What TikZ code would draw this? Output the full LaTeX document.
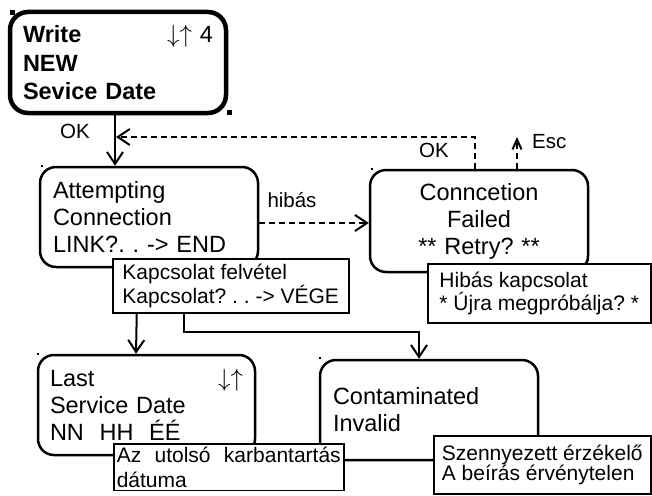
\documentclass[tikz,border=0pt]{standalone}
\usepackage{fontspec}
\setmainfont{Liberation Sans}
\usetikzlibrary{arrows.meta}
\frenchspacing

\newcommand{\updown}{\ensuremath{\downarrow\uparrow}}

\tikzset{
  screen/.style={draw, line width=2.5pt, rounded corners=16pt, inner xsep=13pt, inner ysep=0pt, minimum width=218pt, minimum height=100pt, text width=192pt, align=left, font=\fontsize{23.5}{27}\selectfont},
  note/.style={draw, fill=white, line width=1.5pt, inner xsep=3pt, inner ysep=2pt, align=left, font=\fontsize{21}{22}\selectfont},
  lbl/.style={inner sep=0pt, font=\fontsize{20.5}{22}\selectfont},
  flow/.style={line width=2pt, -{Straight Barb[length=12pt,width=16pt]}},
  back/.style={flow, dash pattern=on 6pt off 4pt},
}

\begin{document}
\begin{tikzpicture}[x=1pt,y=1pt,yscale=-1,xscale=1]
    \useasboundingbox (0,0) rectangle (652,495);
    \clip (0,0) rectangle (652,495);

    %Screens
    \node [screen, line width=4.5pt, rounded corners=18pt, minimum width=216pt, minimum height=101pt, text width=190pt, font=\bfseries\fontsize{23.5}{28.5}\selectfont] (write) at (118,62.5) {Write\hfill{\mdseries\updown\ 4}\\NEW\\Sevice Date};
    \node [screen] (attempt) at (149,217) {Attempting\\Connection\\LINK?. . -> END};
    \node [screen, minimum height=102pt, align=center] (failed) at (479,221) {Conncetion\\Failed\\{}** Retry? **};
    \node [screen, minimum width=217pt, inner xsep=12pt, text width=193pt] (last) at (146.5,405) {Last\hfill\updown\hspace*{30pt}\\Service Date\\NN\ \ HH\ \ ÉÉ};
    \node [screen] (contam) at (429,410) {Contaminated\\Invalid};

    % corner marks
    \fill (10,10) rectangle (15,15);
    \fill (227,110) rectangle (232,115);
    \fill (41,165) rectangle (43,167);
    \fill (371,168) rectangle (373,170);
    \fill (37,353) rectangle (39,355);
    \fill (319,357) rectangle (321,359);

    % Connections
    \coordinate (retry) at (116,137);
    \coordinate (esc) at (517,137);
    \draw [flow] ([xshift=-3pt]write.south) -- ([xshift=-34pt]attempt.north);
    \draw [back] ([yshift=6pt]attempt.east) -- ([yshift=2pt]failed.west);
    \draw [back] ([xshift=-4pt]failed.north) |- (retry);
    \draw [back, -{Straight Barb[length=10pt,width=9pt]}] ([xshift=38pt]failed.north) -- (esc);

    % Text Node
    \node [lbl] (ok1) at (75,131) {OK};
    \node [lbl] (ok2) at (434,150) {OK};
    \node [lbl, anchor=west] (esclbl) at (532,142) {Esc};
    \node [lbl] (hibas) at (292,200) {hibás};

    % Notes
    \node [note, anchor=north west, minimum width=236pt, minimum height=54pt] (kapcs) at (112,258) {Kapcsolat felvétel\\Kapcsolat? . . -> VÉGE};
    \node [note, anchor=north west, minimum width=223pt, minimum height=59pt] (hibasnote) at (427,263) {Hibás kapcsolat\\{}* Újra megpróbálja? *};

    \draw [flow] ([xshift=-94pt]kapcs.south) -- ([xshift=-10.5pt]last.north);
    \draw [flow] ([xshift=-47pt]kapcs.south) -- ++(0,18) -| ([xshift=-10pt]contam.north);

    \node [note, anchor=north west, inner ysep=3pt, text width=224pt, align=justify, font=\fontsize{21}{25}\selectfont] (utolso) at (113,443) {Az utolsó karbantartás dátuma};
    \node [note, anchor=north west, minimum width=217pt, minimum height=58pt, font=\fontsize{21}{20}\selectfont] (szenny) at (433,435) {Szennyezett érzékelő\\A beírás érvénytelen};

\end{tikzpicture}
\end{document}
